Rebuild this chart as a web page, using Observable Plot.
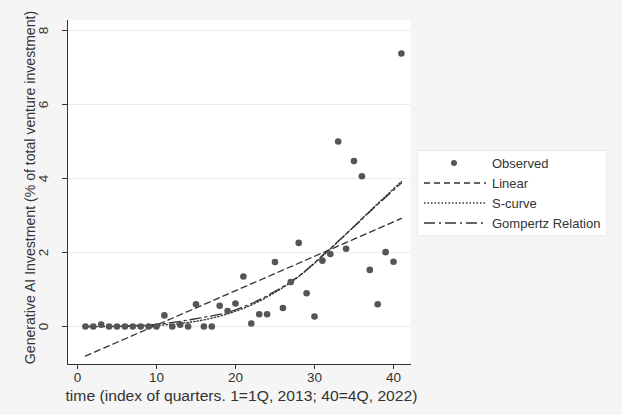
<!DOCTYPE html>
<html><head><meta charset="utf-8">
<script src="https://cdn.jsdelivr.net/npm/d3@7"></script>
<script src="https://cdn.jsdelivr.net/npm/@observablehq/plot@0.6"></script>
<style>
body{margin:0;background:#f5f5f5;font-family:"Liberation Sans",Arial,sans-serif;}
#wrap{position:relative;width:622px;height:415px;}
#legend{position:absolute;left:417px;top:150px;width:190px;height:86px;background:#fff;border:1px solid #ececec;box-sizing:border-box;font-size:13px;color:#333;}
.row{position:absolute;left:0;height:16px;display:flex;align-items:center;}
.row svg{margin-left:4px;}
.row span{position:absolute;left:74px;white-space:nowrap;}
</style></head>
<body><div id="wrap"></div>
<script>
const quarters = d3.range(1, 42);
const observed = [0,0,0.05,0,0,0,0,0,0,0, 0.3,0,0.05,0,0.6,0,0,0.56,0.42,0.62, 1.35,0.08,0.33,0.33,1.74,0.5,1.2,2.26,0.9,0.27, 1.78,1.96,5.0,2.1,4.47,4.06,1.53,0.6,2.01,1.75, 7.38];
const linearX = [1, 41];
const linearY = [-0.80, 2.92];
const fitX = [1,4,7,10,13,16,19,22,25,28,31,34,37,41];
const gompertzY = [0.00,0.00,0.02,0.06,0.14,0.25,0.38,0.62,0.95,1.36,1.92,2.50,3.10,3.88];
const scurveY   = [0.00,0.00,0.01,0.03,0.08,0.18,0.34,0.58,0.92,1.35,1.90,2.50,3.12,3.92];
const xTicks = [0,10,20,30,40];
const yTicks = [0,2,4,6,8];
const legendLabels = ["Observed","Linear","S-curve","Gompertz Relation"];
const xTitle = "time (index of quarters. 1=1Q, 2013; 40=4Q, 2022)";
const yTitle = "Generative AI Investment (% of total venture investment)";

const obs = quarters.map((q,i)=>({x:q,y:observed[i]}));
const lin = linearX.map((q,i)=>({x:q,y:linearY[i]}));
const gom = fitX.map((q,i)=>({x:q,y:gompertzY[i]}));
const sc = fitX.map((q,i)=>({x:q,y:scurveY[i]}));

const ink = "#333";
const chart = Plot.plot({
  width:622, height:415,
  marginLeft:67, marginRight:212, marginTop:20, marginBottom:51,
  style:{background:"#f5f5f5", fontFamily:"Liberation Sans, Arial, sans-serif", fontSize:"13px", color:"#333"},
  x:{domain:[0,40], range:[77,393]},
  y:{domain:[0,8], range:[326,30]},
  marks:[
    Plot.frame({fill:"white", stroke:"none"}),
    Plot.gridY(yTicks, {stroke:"#ebebeb", strokeOpacity:1}),
    Plot.line(lin, {x:"x", y:"y", stroke:ink, strokeWidth:1.3, strokeDasharray:"6,4"}),
    Plot.line(sc, {x:"x", y:"y", stroke:ink, strokeWidth:1.3, strokeDasharray:"1.5,2", curve:"catmull-rom"}),
    Plot.line(gom, {x:"x", y:"y", stroke:ink, strokeWidth:1.3, strokeDasharray:"11,4,2,4", curve:"catmull-rom"}),
    Plot.dot(obs, {x:"x", y:"y", r:3.3, fill:"#555", stroke:"none"}),
    Plot.axisX(xTicks, {tickSize:5, tickPadding:3, fontSize:13.5, stroke:ink, fill:ink, label:null}),
    Plot.axisY(yTicks, {tickSize:5, tickFormat:()=>"", stroke:ink, label:null}),
    Plot.text(yTicks, {y:d=>d, text:d=>String(d), frameAnchor:"left", textAnchor:"middle", dx:-24, rotate:-90, fontSize:13.5, fill:ink}),
    Plot.frame({anchor:"left", stroke:ink}),
    Plot.frame({anchor:"bottom", stroke:ink}),
    Plot.text([yTitle], {frameAnchor:"left", textAnchor:"middle", dx:-37, dy:-5, rotate:-90, fontSize:14.1, fill:ink}),
    Plot.text([xTitle], {frameAnchor:"bottom", textAnchor:"middle", dx:2.5, dy:36, fontSize:14, fill:ink})
  ]
});
const wrap = document.getElementById("wrap");
wrap.appendChild(chart);
// widen the x title to the reference's measured span
d3.select(chart).selectAll("text").filter(function(){return this.textContent===xTitle;})
  .attr("textLength", 352).attr("lengthAdjust","spacingAndGlyphs");

const leg = document.createElement("div");
leg.id = "legend";
const dashes = [null, "6,4", "1.5,2", "11,4,2,4"];
const tops = [4, 24, 44, 64];
legendLabels.forEach((lab,i)=>{
  const row = document.createElement("div");
  row.className = "row";
  row.style.top = tops[i]+"px";
  row.style.width = "188px";
  let sym;
  if (i===0) sym = `<svg width="64" height="16"><circle cx="32" cy="8" r="3" fill="#555"/></svg>`;
  else sym = `<svg width="64" height="16"><line x1="2" x2="64" y1="8" y2="8" stroke="${ink}" stroke-width="1.3" stroke-dasharray="${dashes[i]}"/></svg>`;
  row.innerHTML = sym + `<span>${lab}</span>`;
  leg.appendChild(row);
});
wrap.appendChild(leg);
</script></body></html>
